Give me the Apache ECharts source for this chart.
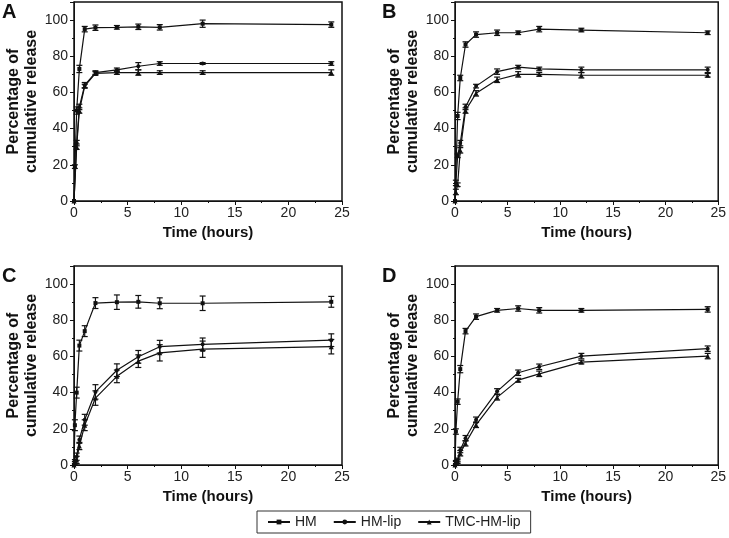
<!DOCTYPE html>
<html>
<head>
<meta charset="utf-8">
<script src="https://cdn.jsdelivr.net/npm/echarts@6/dist/echarts.min.js"></script>
<style>html,body{margin:0;padding:0;background:#fff;}#c{width:729px;height:538px;}</style>
</head>
<body>
<div id="c"></div>
<script>
// ---- data ----
const times = [0, 0.083, 0.25, 0.5, 1, 2, 4, 6, 8, 12, 24];
const seriesNames = ['HM', 'HM-lip', 'TMC-HM-lip'];
const panelLetters = ['A', 'B', 'C', 'D'];
const xTickValues = [0, 5, 10, 15, 20, 25];
const yTickValues = [0, 20, 40, 60, 80, 100];

const A_HM      = [0, 19, 50, 73, 95, 95.8, 96, 96.3, 96, 98, 97.5];
const A_HMlip   = [0, null, 32, 52, 64, 71, 72.5, 74.5, 76, 76, 76];
const A_TMC     = [0, null, 30, 50, 63.5, 70.5, 71, 71, 71, 71, 71];
const A_HM_err    = [0, 1, 2, 2, 1.5, 1.5, 1, 1.5, 1.5, 2, 1.5];
const A_HMlip_err = [0, 0, 1.5, 1.5, 1.5, 1, 1, 2, 1, 0.5, 1];
const A_TMC_err   = [0, 0, 1.5, 1.5, 1, 1, 1, 1.5, 1, 1, 1.5];

const B_HM      = [0, null, 47, 68, 86.5, 92, 93, 93, 95, 94.5, 93];
const B_HMlip   = [0, 10, 25, 32, 52, 63.5, 71.5, 74, 73, 72.5, 72.5];
const B_TMC     = [0, 5, 9, 28, 50, 59.5, 67, 70, 70, 69.5, 69.5];
const B_HM_err    = [0, 0, 2, 1.5, 1.5, 1.5, 1.5, 1, 1.5, 1, 1];
const B_HMlip_err = [0, 1.5, 1, 1.5, 1.5, 1, 1.5, 1, 1, 1.5, 1.5];
const B_TMC_err   = [0, 1.5, 1, 1.5, 1.5, 1.5, 1.5, 1.5, 1, 1.5, 1];

const C_HM      = [0, 22, 40, 66, 74, 89.5, 90, 90.2, 89.4, 89.4, 90.2];
const C_HMlip   = [0, 2, 4.6, 14, 25, 40.4, 52.4, 59.8, 65.4, 66.7, 69];
const C_TMC     = [0, 1, 2.8, 10.5, 22, 37, 49, 57.4, 62, 64, 65.4];
const C_HM_err    = [0, 3, 3, 3, 3, 3, 4, 3.5, 3, 4, 3];
const C_HMlip_err = [0, 1, 2, 2, 3, 4, 3.5, 3.5, 3.5, 3.5, 3.5];
const C_TMC_err   = [0, 1, 2, 2, 3, 4, 3.5, 3.5, 4.5, 4.5, 4];

const D_HM      = [0, 18.5, 35, 53, 74, 82, 85.5, 86.5, 85.5, 85.5, 86];
const D_HMlip   = [0, 1.5, 2.8, 8.3, 14.8, 25, 40.7, 51, 54.3, 60.2, 64.3];
const D_TMC     = [0, 1, 1.9, 6.5, 12, 22.2, 37.4, 46.9, 50.4, 56.9, 60.2];
const D_HM_err    = [0, 1.5, 1.5, 2, 1.5, 1.5, 1, 1.5, 1.5, 1, 1.5];
const D_HMlip_err = [0, 1, 1, 1.5, 1.5, 1.5, 1.5, 1.5, 1.5, 1.5, 1.5];
const D_TMC_err   = [0, 1, 1, 1.5, 1.5, 1.5, 1.5, 1, 1.5, 1, 1.5];

const panels = [
  [[A_HM, A_HM_err], [A_HMlip, A_HMlip_err], [A_TMC, A_TMC_err]],
  [[B_HM, B_HM_err], [B_HMlip, B_HMlip_err], [B_TMC, B_TMC_err]],
  [[C_HM, C_HM_err], [C_HMlip, C_HMlip_err], [C_TMC, C_TMC_err]],
  [[D_HM, D_HM_err], [D_HMlip, D_HMlip_err], [D_TMC, D_TMC_err]]
];

// ---- layout / style ----
const FONT = 'Liberation Sans, Arial, sans-serif';
const grids = [
  {left: 74, right: 387, top: 2, bottom: 337},
  {left: 455, right: 6, top: 2, bottom: 337},
  {left: 74, right: 387, top: 266, bottom: 73},
  {left: 455, right: 6, top: 266, bottom: 73}
];
const symbols = ['rect', 'circle', 'triangle'];
const symbolSizes = [4, 4, 5];

const option = {
  animation: false,
  backgroundColor: '#fff',
  grid: grids.map(g => Object.assign({show: true, borderColor: '#111', borderWidth: 1.5, backgroundColor: 'transparent'}, g)),
  xAxis: grids.map((g, i) => ({
    type: 'value', gridIndex: i, min: 0, max: 25, interval: 5,
    name: 'Time (hours)', nameLocation: 'middle', nameGap: 24,
    nameTextStyle: {fontFamily: FONT, fontWeight: 'bold', fontSize: 15, color: '#111'},
    axisLine: {show: true, lineStyle: {color: '#111', width: 1}},
    axisTick: {show: true, length: 4, lineStyle: {color: '#111'}},
    minorTick: {show: true, splitNumber: 2, length: 2, lineStyle: {color: '#111'}},
    splitLine: {show: false},
    axisLabel: {fontFamily: FONT, fontSize: 14, color: '#222', margin: 5,
      formatter: v => xTickValues.includes(v) ? String(v) : ''}
  })),
  yAxis: grids.map((g, i) => ({
    type: 'value', gridIndex: i, min: 0, max: 110, interval: 20,
    name: 'Percentage of\ncumulative release', nameLocation: 'middle', nameGap: 32,
    nameRotate: 90,
    nameTextStyle: {fontFamily: FONT, fontWeight: 'bold', fontSize: 16, color: '#111', lineHeight: 18},
    axisLine: {show: true, lineStyle: {color: '#111', width: 1}},
    axisTick: {show: true, length: 4, lineStyle: {color: '#111'}},
    minorTick: {show: true, splitNumber: 2, length: 2, lineStyle: {color: '#111'}},
    splitLine: {show: false},
    axisLabel: {fontFamily: FONT, fontSize: 14, color: '#222', margin: 6,
      formatter: v => yTickValues.includes(v) ? String(v) : ''}
  })),
  legend: {
    data: seriesNames,
    left: 257, top: 511,
    orient: 'horizontal',
    itemWidth: 22, itemHeight: 6, itemGap: 16,
    padding: [4, 10, 4, 10],
    borderColor: '#333', borderWidth: 1,
    textStyle: {fontFamily: FONT, fontSize: 14, color: '#222'}
  },
  graphic: panelLetters.map((L, i) => ({
    type: 'text',
    left: i % 2 === 0 ? 2 : 382,
    top: i < 2 ? 2 : 266,
    style: {text: L, font: 'bold 20px ' + FONT, fill: '#111'}
  })),
  series: []
};

panels.forEach((panel, p) => {
  panel.forEach(([vals, errs], s) => {
    const pts = [];
    const ebs = [];
    times.forEach((t, k) => {
      if (vals[k] !== null) {
        pts.push([t, vals[k]]);
        ebs.push([t, vals[k], errs[k]]);
      }
    });
    option.series.push({
      type: 'line', name: seriesNames[s], xAxisIndex: p, yAxisIndex: p,
      data: pts, symbol: symbols[s], symbolSize: symbolSizes[s], showSymbol: true,
      lineStyle: {color: '#111', width: 1.2}, itemStyle: {color: '#111'},
      z: 3
    });
    option.series.push({
      type: 'custom', xAxisIndex: p, yAxisIndex: p, data: ebs, silent: true, z: 4,
      renderItem: function (params, api) {
        const x = api.value(0), y = api.value(1), e = api.value(2);
        if (!e) return null;
        const hi = api.coord([x, y + e]);
        const lo = api.coord([x, y - e]);
        const w = 3;
        const st = {stroke: '#111', lineWidth: 1.2};
        return {
          type: 'group',
          children: [
            {type: 'line', shape: {x1: hi[0], y1: hi[1], x2: lo[0], y2: lo[1]}, style: st},
            {type: 'line', shape: {x1: hi[0] - w, y1: hi[1], x2: hi[0] + w, y2: hi[1]}, style: st},
            {type: 'line', shape: {x1: lo[0] - w, y1: lo[1], x2: lo[0] + w, y2: lo[1]}, style: st}
          ]
        };
      }
    });
  });
});

const chart = echarts.init(document.getElementById('c'), null, {renderer: 'canvas'});
chart.setOption(option);
</script>
</body>
</html>
